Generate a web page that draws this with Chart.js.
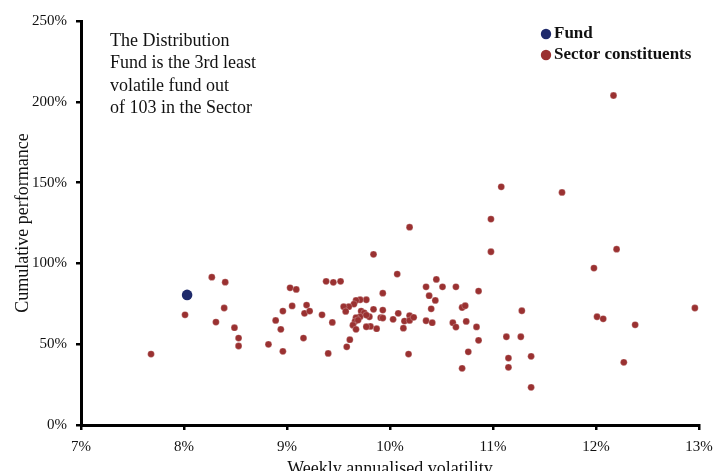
<!DOCTYPE html>
<html>
<head>
<meta charset="utf-8">
<script src="https://cdn.jsdelivr.net/npm/chart.js@4.4.0/dist/chart.umd.min.js"></script>
<style>
  html, body { margin: 0; padding: 0; background: #fff; }
  #wrap { width: 713px; height: 471px; }
</style>
</head>
<body>
<div id="wrap"><canvas id="scatterChart"></canvas></div>
<script>
// Fund (weekly annualised volatility %, cumulative performance %)
const fundVolatility = [8.03];
const fundPerformance = [80.5];

// Sector constituents
const sectorVolatility = [
  7.68, 8.01, 8.27, 8.40, 8.39, 8.31, 8.49, 8.53, 8.53, 8.82,
  8.96, 8.89, 8.94, 8.96, 9.05, 9.03, 9.09, 9.19, 9.17, 9.16,
  9.22, 9.84, 10.07, 9.38, 9.45, 9.52, 9.93, 10.35, 10.45, 10.51,
  10.64, 10.86, 10.38, 10.44, 10.40, 10.35, 10.41, 10.61, 10.64, 10.70,
  10.73, 10.74, 10.84, 10.86, 10.76, 10.70, 10.18, 10.13, 10.14, 10.19,
  10.19, 10.23, 10.03, 10.08, 9.93, 9.91, 9.93, 9.84, 9.87, 9.81,
  9.77, 9.77, 9.71, 9.67, 9.65, 9.60, 9.55, 9.57, 9.72, 9.75,
  9.80, 9.71, 9.67, 9.66, 9.64, 9.67, 9.61, 9.58, 9.44, 9.40,
  9.34, 9.69, 9.77, 10.98, 12.20, 11.98, 11.28, 12.96, 12.01, 12.07,
  12.38, 11.13, 11.27, 11.15, 11.37, 11.15, 12.27, 11.37, 12.17, 11.08,
  11.67, 10.19, 10.98
];
const sectorPerformance = [
  43.9, 68.2, 91.5, 88.4, 72.4, 63.7, 60.2, 53.8, 48.9, 49.9,
  45.6, 64.7, 59.2, 70.5, 73.7, 84.9, 83.9, 74.2, 69.1, 53.8,
  70.5, 105.6, 93.4, 88.9, 88.3, 88.9, 81.6, 85.5, 90.1, 85.5,
  85.5, 82.9, 80.0, 77.1, 71.9, 64.5, 63.3, 63.3, 60.6, 72.7,
  73.8, 64.1, 60.7, 52.4, 45.3, 35.1, 43.9, 59.9, 64.3, 67.7,
  64.7, 66.6, 65.4, 69.1, 71.1, 66.4, 66.2, 71.6, 59.6, 61.0,
  60.8, 77.5, 77.5, 77.1, 74.8, 73.2, 73.2, 70.3, 70.5, 69.4,
  67.0, 67.0, 66.4, 64.1, 61.8, 59.2, 52.8, 48.4, 63.5, 44.3,
  68.2, 64.9, 68.0, 107.2, 108.8, 97.1, 70.7, 72.4, 67.0, 65.7,
  62.0, 54.6, 54.6, 41.4, 42.5, 35.7, 38.8, 23.3, 203.9, 147.4,
  143.9, 122.4, 127.4
];

const noteLines = [
  'The Distribution',
  'Fund is the 3rd least',
  'volatile fund out',
  'of 103 in the Sector'
];

const fundColor = '#1f2a6b';
const sectorColor = '#9a3131';
const serif = '"Liberation Serif", "Times New Roman", serif';

function toPoints(xs, ys) {
  return xs.map((x, i) => ({ x: x, y: ys[i] }));
}

// legend + text box drawn on top of the plot
const overlayPlugin = {
  id: 'overlay',
  afterDraw(chart) {
    const ctx = chart.ctx;
    ctx.save();

    ctx.fillStyle = '#111';
    ctx.font = '18px ' + serif;
    ctx.textAlign = 'left';
    ctx.textBaseline = 'middle';
    noteLines.forEach((line, i) => {
      ctx.fillText(line, 110, 41.5 + i * 22.2);
    });

    const items = [
      { label: 'Fund', color: fundColor, y: 33.5 },
      { label: 'Sector constituents', color: sectorColor, y: 54.5 }
    ];
    ctx.font = 'bold 17px ' + serif;
    items.forEach(item => {
      ctx.beginPath();
      ctx.arc(546, item.y + 0.5, 5.2, 0, Math.PI * 2);
      ctx.fillStyle = item.color;
      ctx.fill();
      ctx.fillStyle = '#111';
      ctx.fillText(item.label, 554, item.y);
    });

    ctx.restore();
  }
};

document.addEventListener('DOMContentLoaded', function () {
  const ctx = document.getElementById('scatterChart');

  new Chart(ctx, {
    type: 'scatter',
    data: {
      datasets: [
        {
          label: 'Fund',
          data: toPoints(fundVolatility, fundPerformance),
          backgroundColor: fundColor,
          borderWidth: 0,
          pointRadius: 5.3,
          order: 0
        },
        {
          label: 'Sector constituents',
          data: toPoints(sectorVolatility, sectorPerformance),
          backgroundColor: sectorColor,
          borderColor: 'rgba(255,255,255,0.6)',
          borderWidth: 0.4,
          pointRadius: 3.4,
          order: 1
        }
      ]
    },
    options: {
      responsive: true,
      maintainAspectRatio: false,
      animation: false,
      layout: {
        padding: { left: 0, right: 14, top: 21, bottom: 0 }
      },
      plugins: {
        legend: { display: false },
        tooltip: { enabled: false }
      },
      scales: {
        x: {
          type: 'linear',
          min: 7,
          max: 13,
          afterFit: scale => {
            scale.height = 46;
            scale.paddingRight = 0;
            scale.paddingLeft = 0;
          },
          border: { display: true, color: '#000', width: 3 },
          grid: {
            drawOnChartArea: false,
            drawTicks: true,
            tickLength: 5,
            color: '#000',
            lineWidth: 2.5
          },
          ticks: {
            stepSize: 1,
            padding: 8,
            color: '#111',
            font: { family: serif, size: 15 },
            callback: value => value + '%'
          },
          title: {
            display: true,
            text: 'Weekly annualised volatility',
            color: '#111',
            font: { family: serif, size: 18 },
            padding: { top: 0, bottom: -9 }
          }
        },
        y: {
          type: 'linear',
          min: 0,
          max: 250,
          afterFit: scale => { scale.width = 81; },
          border: { display: true, color: '#000', width: 3 },
          grid: {
            drawOnChartArea: false,
            drawTicks: true,
            tickLength: 5,
            color: '#000',
            lineWidth: 2.5
          },
          ticks: {
            stepSize: 50,
            padding: 9,
            color: '#111',
            font: { family: serif, size: 15 },
            callback: value => value + '%'
          },
          title: {
            display: true,
            text: 'Cumulative performance',
            color: '#111',
            font: { family: serif, size: 18 },
            padding: { top: 12, bottom: 0 }
          }
        }
      }
    },
    plugins: [overlayPlugin]
  });
});
</script>
</body>
</html>
